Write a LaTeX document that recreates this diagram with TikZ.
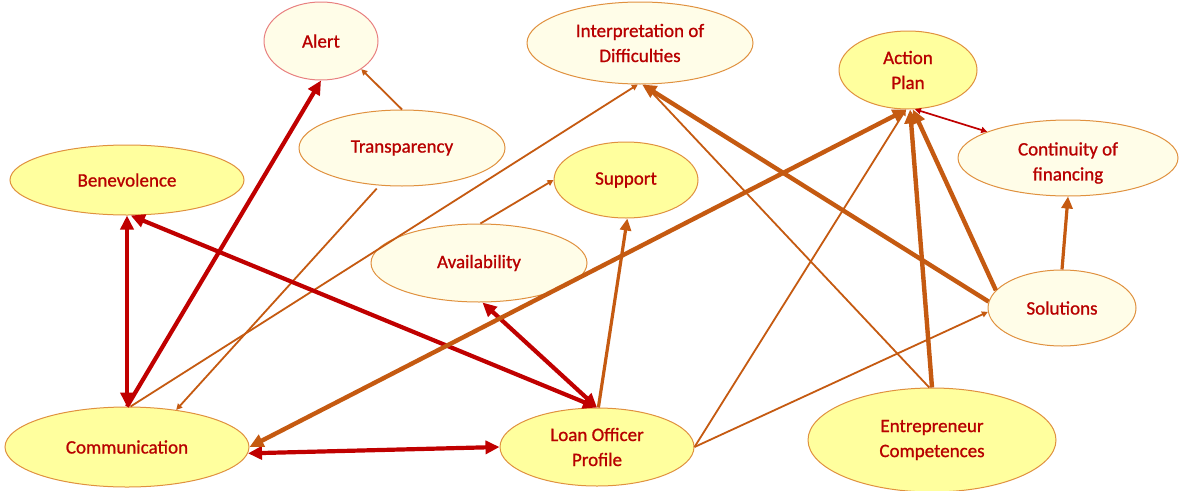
\documentclass[tikz,border=0pt]{standalone}
\usepackage{fontspec}
\setmainfont{Carlito}[FakeBold=0.9]
\usetikzlibrary{shapes.geometric,arrows.meta}
\definecolor{txtred}{HTML}{B80000}
\definecolor{linered}{HTML}{C00000}
\definecolor{lineor}{HTML}{C55A11}
\definecolor{yel}{HTML}{FFFF9E}
\definecolor{crm}{HTML}{FFFDE8}
\definecolor{bord}{HTML}{E0913F}
\definecolor{pinkb}{HTML}{E88080}
\begin{document}
\begin{tikzpicture}[x=1pt,y=-1pt,
  ell/.style={ellipse, draw=bord, line width=1pt, inner sep=0pt, text=txtred,
    font=\fontsize{19}{25}\selectfont, align=center},
  yl/.style={ell, fill=yel},
  cr/.style={ell, fill=crm},
  rdd/.style={draw=linered, line width=4.2pt, >={Triangle[length=14pt,width=13pt]}, <->},
  rs/.style={draw=linered, line width=4.2pt, >={Triangle[length=14pt,width=13pt]}, ->},
  rthin/.style={draw=linered, line width=1.7pt, >={Triangle[length=6pt,width=6pt]}, <->},
  odd/.style={draw=lineor, line width=4.4pt, >={Triangle[length=14pt,width=13pt]}, <->},
  othick/.style={draw=lineor, line width=4.4pt, >={Triangle[length=14pt,width=13pt]}, ->},
  omed/.style={draw=lineor, line width=3.2pt, >={Triangle[length=12pt,width=11pt]}, ->},
  othin/.style={draw=lineor, line width=1.8pt, >={Triangle[length=6pt,width=6pt]}, ->},
]
\useasboundingbox (0,0) rectangle (1182,490);
\fill[white] (0,0) rectangle (1182,490);

\node[cr, draw=pinkb, minimum width=114pt, minimum height=78pt] (alert) at (321,41) {Alert};
\node[cr, minimum width=226pt, minimum height=82pt] (interp) at (640,43) {Interpretation of\\Difficulties};
\node[yl, minimum width=138pt, minimum height=78pt] (ap) at (908,70) {Action\\Plan};
\node[cr, minimum width=220pt, minimum height=76pt] (cont) at (1068,158) {};
\node[txtred, font=\fontsize{19}{25}\selectfont, align=center] (conttxt) at (1068,163) {Continuity of\\financing};
\node[yl, minimum width=234pt, minimum height=70pt] (ben) at (127,180) {Benevolence};
\node[cr, minimum width=206pt, minimum height=76pt] (trans) at (402,148) {Transparency};
\node[yl, minimum width=144pt, minimum height=76pt] (support) at (626,180) {Support};
\node[cr, minimum width=216pt, minimum height=78pt] (avail) at (479,263) {Availability};
\node[cr, minimum width=148pt, minimum height=76pt] (sol) at (1062,308) {Solutions};
\node[yl, minimum width=244pt, minimum height=80pt] (comm) at (127,447) {Communication};
\node[yl, minimum width=194pt, minimum height=78pt] (lop) at (597,447) {Loan Officer\\Profile};
\node[yl, minimum width=248pt, minimum height=104pt] (ec) at (932,440) {Entrepreneur\\Competences};

% thin orange
\draw[othin] (trans.north) -- (alert.-35);
\draw[othin, shorten <=4pt] (trans.-121) -- (comm.37);
\draw[othin] (comm.85) -- (interp.-93);
\draw[othin] (avail.88) -- (support.west);
\draw[othin] (lop.east) -- (ap.-93);
\draw[othin] (lop.east) -- (sol.-177);
\draw[othin] (ec.93) -- (interp.-84);
% red
\draw[rs] (comm.north) -- (alert.south);
\draw[rdd] (ben.south) -- (comm.north);
\draw[rdd] (ben.-84) -- (lop.north);
\draw[rdd] (avail.-85) -- (lop.north);
\draw[rdd] (comm.-3) -- (lop.west);
\draw[rthin] (ap.-80) -- (cont.162);
% thick / medium orange
\draw[odd] (comm.east) -- (ap.-92);
\draw[omed] (lop.88) -- (support.-88);
\draw[othick] (sol.175) -- (interp.-87);
\draw[othick] (ec.north) -- (ap.-87);
\draw[othick] (sol.165) -- (ap.-83);
\draw[omed] (sol.north) -- (cont.south);
\end{tikzpicture}
\end{document}
